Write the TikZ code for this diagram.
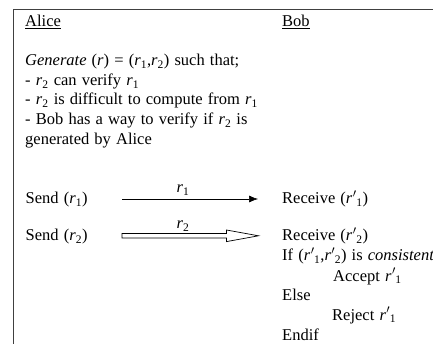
\documentclass[tikz,border=0pt]{standalone}
\usepackage{fontspec}
\setmainfont{Liberation Serif}[WordSpace=1.25]
\usetikzlibrary{arrows.meta}
\newcommand\rv[1]{\textit{r}\textsubscript{#1}}
\newcommand\rp[1]{\textit{r}\kern0.5pt$'$\kern-0.5pt\textsubscript{#1}}
\begin{document}
\begin{tikzpicture}[x=1pt,y=-1pt,
  txt/.style={anchor=base west, inner sep=0pt, font=\fontsize{16.5}{19.6}\selectfont},
  lbl/.style={anchor=base, inner sep=0pt, font=\fontsize{16.5}{19.6}\selectfont},
  frame/.style={draw=black!75, line width=1.3pt},
  msg/.style={line width=0.6pt, -{Latex[length=9pt,width=7pt]}},
  blockarrow/.style={draw=black, line width=0.7pt, fill=white}]
\useasboundingbox (0,0) rectangle (433,344);
\draw[frame] (13.5,344) -- (13.5,9.5) -- (433,9.5);
\node[txt] (alice) at (25,27) {\underline{Alice}};
\node[txt] (bob) at (282,27) {\underline{Bob}};
\node[txt] (g1) at (25,66) {\textit{Generate} (\textit{r}) = (\rv{1},\rv{2}) such that;};
\node[txt] (g2) at (25,85.5) {- \rv{2} can verify \rv{1}};
\node[txt] (g3) at (25,105) {- \rv{2} is difficult to compute from \rv{1}};
\node[txt] (g4) at (25,125) {- Bob has a way to verify if \rv{2} is};
\node[txt] (g5) at (25,144.5) {generated by Alice};
\node[txt] (s1) at (25.5,204) {Send (\rv{1})};
\node[txt] (s2) at (25.5,241) {Send (\rv{2})};
\node[txt] (rc1) at (282,204) {Receive (\rp{1})};
\node[txt] (rc2) at (282,241) {Receive (\rp{2})};
\node[txt] (if) at (282,261) {If (\rp{1},\rp{2}) is \textit{consistent}};
\node[txt] (acc) at (333,281) {Accept \rp{1}};
\node[txt] (else) at (282,300.5) {Else};
\node[txt] (rej) at (332,320) {Reject \rp{1}};
\node[txt] (endif) at (282,340) {Endif};
\coordinate (a1s) at (122,199);
\coordinate (a1e) at (258,199);
\draw[msg] (a1s) -- (a1e);
\node[lbl] (l1) at (183,193) {\rv{1}};
\coordinate (a2s) at (122,235.8);
\draw[blockarrow] (a2s) ++(0,-2.3) -- ++(104.5,0) -- ++(0,-3.5) -- ++(32,5.8) -- ++(-32,5.8) -- ++(0,-3.5) -- ++(-104.5,0) -- cycle;
\node[lbl] (l2) at (183,229) {\rv{2}};
\end{tikzpicture}
\end{document}
